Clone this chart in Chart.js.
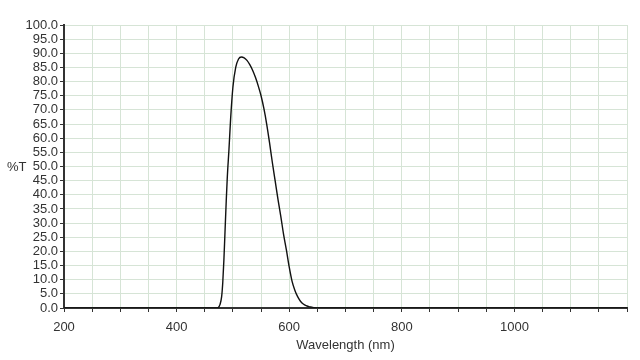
<!DOCTYPE html>
<html>
<head>
<meta charset="utf-8">
<script src="https://cdn.jsdelivr.net/npm/chart.js@4"></script>
<style>
html,body{margin:0;padding:0;background:#fff;}
#c{display:block;}
</style>
</head>
<body>
<canvas id="c" width="640" height="360"></canvas>
<script>
const wavelengths = [200, 470, 474, 477, 480, 482, 484, 486, 488, 490, 493, 496, 500, 505, 510, 515, 520, 525, 530, 535, 540, 545, 550, 555, 560, 565, 570, 575, 580, 585, 590, 595, 600, 605, 610, 615, 620, 625, 630, 635, 640, 645, 650, 1200];
const transmission = [0, 0, 0.2, 1.2, 4, 9, 17, 27, 37, 46, 56, 67, 78, 85, 88, 88.7, 88.4, 87.5, 86, 84, 81.5, 78.5, 75, 70.5, 65, 58.5, 51.5, 45, 38.5, 32.5, 26, 20.5, 14.5, 9.5, 6.3, 4, 2.4, 1.4, 0.8, 0.5, 0.3, 0.1, 0, 0];
const xLabelValues = [200, 400, 600, 800, 1000];
const yTitle = '%T';
const xTitle = 'Wavelength (nm)';

const points = wavelengths.map((w, i) => ({x: w, y: transmission[i]}));
const FONT = 'Liberation Sans, Arial, sans-serif';
const TEXT = '#333';

const yTitlePlugin = {
  id: 'yTitleHoriz',
  afterDraw(chart) {
    const ctx = chart.ctx;
    const area = chart.chartArea;
    ctx.save();
    ctx.font = '13px ' + FONT;
    ctx.fillStyle = TEXT;
    ctx.textAlign = 'left';
    ctx.textBaseline = 'middle';
    ctx.fillText(yTitle, 7, (area.top + area.bottom) / 2 + 1);
    ctx.restore();
  }
};

new Chart(document.getElementById('c'), {
  type: 'scatter',
  data: {
    datasets: [{
      data: points,
      showLine: true,
      borderColor: '#111',
      borderWidth: 1.4,
      pointRadius: 0,
      cubicInterpolationMode: 'monotone',
      fill: false
    }]
  },
  options: {
    responsive: false,
    animation: false,
    layout: {padding: {top: 25, right: 13, left: 0, bottom: 0}},
    plugins: {legend: {display: false}, tooltip: {enabled: false}},
    scales: {
      x: {
        type: 'linear',
        min: 200,
        max: 1200,
        afterFit(s) { s.height = 52; },
        ticks: {
          stepSize: 50,
          autoSkip: false,
          maxRotation: 0,
          padding: 8,
          color: TEXT,
          font: {family: FONT, size: 13},
          callback: v => xLabelValues.includes(v) ? String(v) : ''
        },
        grid: {color: '#d6e4d6', lineWidth: 1, tickColor: '#333', tickLength: 4},
        border: {color: '#333', width: 2},
        title: {display: true, text: xTitle, color: TEXT, font: {family: FONT, size: 13}, padding: {top: 0, bottom: 7}}
      },
      y: {
        min: 0,
        max: 100,
        afterFit(s) { s.width = 64; },
        ticks: {
          stepSize: 5,
          autoSkip: false,
          padding: 2,
          color: TEXT,
          font: {family: FONT, size: 13},
          callback: v => Number(v).toFixed(1)
        },
        grid: {color: '#d6e4d6', lineWidth: 1, tickColor: '#333', tickLength: 4},
        border: {color: '#333', width: 2}
      }
    }
  },
  plugins: [yTitlePlugin]
});
</script>
</body>
</html>
